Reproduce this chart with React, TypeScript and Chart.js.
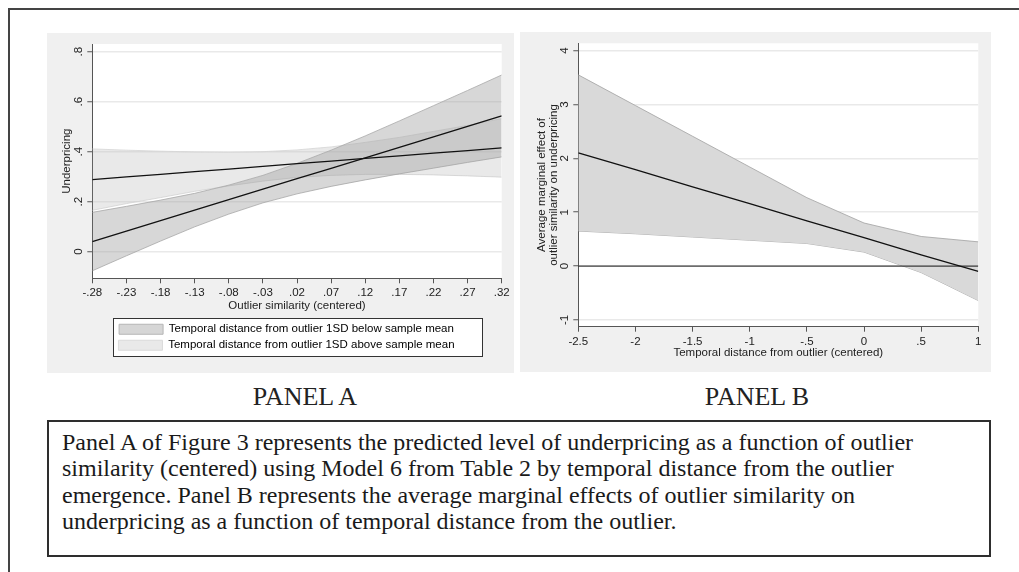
import React, { useEffect, useRef } from 'react';
import { Chart, registerables } from 'chart.js';

Chart.register(...registerables);

// ---------------- Panel A data ----------------
const simX = [-0.28, -0.23, -0.18, -0.13, -0.08, -0.03, 0.02, 0.07, 0.12, 0.17, 0.22, 0.27, 0.32];
const belowEst = [0.040, 0.082, 0.124, 0.166, 0.208, 0.250, 0.292, 0.333, 0.375, 0.417, 0.459, 0.501, 0.543];
const belowHi = [0.157, 0.181, 0.206, 0.233, 0.266, 0.305, 0.353, 0.406, 0.463, 0.523, 0.584, 0.645, 0.707];
const belowLo = [-0.077, -0.017, 0.042, 0.099, 0.150, 0.195, 0.231, 0.261, 0.287, 0.311, 0.334, 0.357, 0.379];
const aboveEst = [0.288, 0.299, 0.309, 0.320, 0.330, 0.341, 0.352, 0.362, 0.373, 0.383, 0.394, 0.404, 0.415];
const aboveHi = [0.411, 0.406, 0.402, 0.399, 0.397, 0.400, 0.407, 0.419, 0.437, 0.457, 0.481, 0.505, 0.532];
const aboveLo = [0.165, 0.192, 0.216, 0.241, 0.263, 0.282, 0.297, 0.305, 0.309, 0.309, 0.307, 0.303, 0.298];
const simTicks = [-0.28, -0.23, -0.18, -0.13, -0.08, -0.03, 0.02, 0.07, 0.12, 0.17, 0.22, 0.27, 0.32];
const underTicks = [0, 0.2, 0.4, 0.6, 0.8];
const legendLabels = [
  'Temporal distance from outlier 1SD below sample mean',
  'Temporal distance from outlier 1SD above sample mean',
];

// ---------------- Panel B data ----------------
const distX = [-2.5, -2, -1.5, -1, -0.5, 0, 0.5, 1];
const ameEst = [2.10, 1.79, 1.47, 1.16, 0.84, 0.53, 0.21, -0.10];
const ameHi = [3.55, 2.98, 2.41, 1.84, 1.27, 0.80, 0.55, 0.45];
const ameLo = [0.65, 0.60, 0.54, 0.48, 0.42, 0.26, -0.12, -0.64];
const zeroRefX = [-2.5, 1];
const zeroRefY = [0, 0];
const distTicks = [-2.5, -2, -1.5, -1, -0.5, 0, 0.5, 1];
const ameTicks = [-1, 0, 1, 2, 3, 4];

const panelTitles = ['PANEL A', 'PANEL B'];
const captionLines = [
  'Panel A of Figure 3 represents the predicted level of underpricing as a function of outlier',
  'similarity (centered) using Model 6 from Table 2 by temporal distance from the outlier',
  'emergence. Panel B represents the average marginal effects of outlier similarity on',
  'underpricing as a function of temporal distance from the outlier.',
];

// ---------------- styles ----------------
const SANS = '"Liberation Sans", Arial, sans-serif';
const SERIF = '"Liberation Serif", "Times New Roman", serif';
const FS = 11.5;
const TEXT = '#222222';
const AXIS = '#555555';
const GRID = '#e9e9e9';

Chart.defaults.font.family = SANS;

function fmt(v: number): string {
  const r = Math.round(v * 100) / 100;
  if (r === 0) return '0';
  return String(r).replace(/^(-?)0\./, '$1.');
}

function pts(xs: number[], ys: number[]) {
  return xs.map((x, i) => ({ x, y: ys[i] }));
}

const plotBg = {
  id: 'plotBg',
  beforeDraw(chart: any) {
    const { ctx, chartArea: a } = chart;
    ctx.save();
    ctx.fillStyle = '#ffffff';
    ctx.fillRect(a.left, a.top, a.right - a.left, a.bottom - a.top);
    ctx.restore();
  },
};

const rotatedYLabels = {
  id: 'rotatedYLabels',
  afterDraw(chart: any) {
    const s = chart.scales.y;
    if (!s) return;
    const ctx = chart.ctx;
    ctx.save();
    ctx.font = `${FS}px ${SANS}`;
    ctx.fillStyle = TEXT;
    ctx.textAlign = 'center';
    ctx.textBaseline = 'middle';
    const x = s.right - 13.2;
    for (const t of s.ticks) {
      const y = s.getPixelForValue(t.value);
      ctx.save();
      ctx.translate(x, y);
      ctx.rotate(-Math.PI / 2);
      ctx.fillText(fmt(t.value), 0, 0);
      ctx.restore();
    }
    ctx.restore();
  },
};

const LEGEND_SHIFT = -10.5;
const legendFrame = {
  id: 'legendFrame',
  afterLayout(chart: any) {
    const lg = chart.legend;
    const a = chart.chartArea;
    if (!lg) return;
    lg.left = a.left + LEGEND_SHIFT;
    lg.right = a.right + LEGEND_SHIFT;
  },
  beforeDraw(chart: any) {
    const lg = chart.legend;
    const a = chart.chartArea;
    if (!lg) return;
    const ctx = chart.ctx;
    const x0 = Math.round(a.left + 20.4) + 0.5;
    const x1 = Math.round(a.right - 20) + 0.5;
    const y0 = Math.round(lg.top - 0.7) + 0.5;
    const y1 = Math.round(lg.top + 36.7) + 0.5;
    ctx.save();
    ctx.fillStyle = '#ffffff';
    ctx.fillRect(x0, y0, x1 - x0, y1 - y0);
    ctx.strokeStyle = '#333333';
    ctx.lineWidth = 1;
    ctx.strokeRect(x0, y0, x1 - x0, y1 - y0);
    ctx.restore();
  },
};

const lineStyle = { pointRadius: 0, borderWidth: 1.3, borderColor: '#111111', fill: false, tension: 0 };
const tickFont = { family: SANS, size: FS };

function configA(): any {
  return {
    type: 'line',
    data: {
      datasets: [
        { label: 'below', data: pts(simX, belowEst), ...lineStyle },
        { label: 'above', data: pts(simX, aboveEst), ...lineStyle },
        {
          label: 'below hi', data: pts(simX, belowHi), pointRadius: 0, borderWidth: 0.8,
          borderColor: '#a8a8a8', backgroundColor: 'rgba(160,160,160,0.42)', fill: '+1', tension: 0,
        },
        { label: 'below lo', data: pts(simX, belowLo), pointRadius: 0, borderWidth: 0.8, borderColor: '#a8a8a8', fill: false, tension: 0 },
        {
          label: 'above hi', data: pts(simX, aboveHi), pointRadius: 0, borderWidth: 0.8,
          borderColor: '#d4d4d4', backgroundColor: 'rgba(195,195,195,0.36)', fill: '+1', tension: 0,
        },
        { label: 'above lo', data: pts(simX, aboveLo), pointRadius: 0, borderWidth: 0.8, borderColor: '#d4d4d4', fill: false, tension: 0 },
      ],
    },
    options: {
      responsive: false,
      animation: false,
      events: [],
      layout: { padding: { left: 0, right: 12.3, top: 11, bottom: 12 } },
      scales: {
        x: {
          type: 'linear', min: -0.28, max: 0.32,
          afterBuildTicks: (s: any) => { s.ticks = simTicks.map((v) => ({ value: v })); },
          afterFit: (s: any) => { s.height = 40.7; },
          ticks: { font: tickFont, color: TEXT, padding: 3, maxRotation: 0, autoSkip: false, callback: (v: any) => fmt(Number(v)) },
          grid: { drawOnChartArea: false, tickLength: 5, tickColor: AXIS, tickWidth: 1 },
          border: { color: AXIS, width: 1 },
          title: { display: true, text: 'Outlier similarity (centered)', font: tickFont, color: TEXT, padding: { top: 0, bottom: 6.1 } },
        },
        y: {
          type: 'linear', min: -0.107, max: 0.831,
          afterBuildTicks: (s: any) => { s.ticks = underTicks.map((v) => ({ value: v })); },
          afterFit: (s: any) => { s.width = 45.3; },
          ticks: { display: false },
          grid: { color: GRID, lineWidth: 1.5, tickColor: AXIS, tickLength: 5, tickWidth: 1 },
          border: { color: AXIS, width: 1 },
          title: { display: true, text: 'Underpricing', font: tickFont, color: TEXT, padding: { top: 13.1, bottom: 0 } },
        },
      },
      plugins: {
        tooltip: { enabled: false },
        legend: {
          display: true, position: 'bottom', align: 'center', fullSize: false,
          onClick: () => {},
          labels: {
            boxWidth: 44, boxHeight: 10, padding: 4.5, color: TEXT, font: tickFont,
            generateLabels: () => legendLabels.map((text, i) => ({
              text,
              fillStyle: i === 0 ? '#d6d6d6' : '#e9e9e9',
              strokeStyle: i === 0 ? '#b5b5b5' : '#dadada',
              lineWidth: 1,
              hidden: false,
              datasetIndex: i === 0 ? 2 : 4,
            })),
          },
        },
      },
    },
    plugins: [plotBg, legendFrame, rotatedYLabels],
  };
}

function configB(): any {
  return {
    type: 'line',
    data: {
      datasets: [
        { label: 'ame', data: pts(distX, ameEst), ...lineStyle },
        { label: 'zero', data: pts(zeroRefX, zeroRefY), pointRadius: 0, borderWidth: 1, borderColor: '#111111', fill: false },
        {
          label: 'hi', data: pts(distX, ameHi), pointRadius: 0, borderWidth: 0.9,
          borderColor: '#a9a9a9', backgroundColor: '#d9d9d9', fill: '+1', tension: 0,
        },
        { label: 'lo', data: pts(distX, ameLo), pointRadius: 0, borderWidth: 0.9, borderColor: '#a9a9a9', fill: false, tension: 0 },
      ],
    },
    options: {
      responsive: false,
      animation: false,
      events: [],
      layout: { padding: { left: 0, right: 12.7, top: 11.3, bottom: 11.3 } },
      scales: {
        x: {
          type: 'linear', min: -2.5, max: 1,
          afterBuildTicks: (s: any) => { s.ticks = distTicks.map((v) => ({ value: v })); },
          afterFit: (s: any) => { s.height = 34; },
          ticks: { font: tickFont, color: TEXT, padding: 3, maxRotation: 0, autoSkip: false, callback: (v: any) => fmt(Number(v)) },
          grid: { drawOnChartArea: false, tickLength: 5, tickColor: AXIS, tickWidth: 1 },
          border: { color: AXIS, width: 1 },
          title: { display: true, text: 'Temporal distance from outlier (centered)', font: tickFont, color: TEXT, padding: { top: 0, bottom: 0.5 } },
        },
        y: {
          type: 'linear', min: -1.125, max: 4.136,
          afterBuildTicks: (s: any) => { s.ticks = ameTicks.map((v) => ({ value: v })); },
          afterFit: (s: any) => { s.width = 58.3; },
          ticks: { display: false },
          grid: { color: GRID, lineWidth: 1.5, tickColor: AXIS, tickLength: 5, tickWidth: 1 },
          border: { color: AXIS, width: 1 },
          title: {
            display: true,
            text: ['Average marginal effect of', 'outlier similarity on underpricing'],
            font: { family: SANS, size: FS, lineHeight: 1.07 }, color: TEXT,
            padding: { top: 15.5, bottom: 0 },
          },
        },
      },
      plugins: { tooltip: { enabled: false }, legend: { display: false } },
    },
    plugins: [plotBg, rotatedYLabels],
  };
}

function ChartCanvas({ width, height, makeConfig }: { width: number; height: number; makeConfig: () => any }) {
  const ref = useRef<HTMLCanvasElement>(null);
  useEffect(() => {
    const chart = new Chart(ref.current as HTMLCanvasElement, makeConfig());
    return () => chart.destroy();
  }, []);
  return <canvas ref={ref} width={width} height={height} style={{ display: 'block', width, height }} />;
}

const captionStyle: React.CSSProperties = {
  position: 'absolute', top: 384, width: 200, textAlign: 'center', font: `26px ${SERIF}`,
  lineHeight: '26px', color: '#222', whiteSpace: 'nowrap',
};

export default function App() {
  return (
    <div style={{ position: 'fixed', left: 0, top: 0, width: 1019, height: 572, background: '#ffffff', overflow: 'hidden' }}>
      <div style={{ position: 'absolute', left: 8, top: 8, width: 1100, height: 700, borderTop: '2px solid #444', borderLeft: '2px solid #444' }} />
      <div style={{ position: 'absolute', left: 47, top: 33, width: 467, height: 340, background: '#f0f0f0' }}>
        <ChartCanvas width={467} height={340} makeConfig={configA} />
      </div>
      <div style={{ position: 'absolute', left: 520, top: 32, width: 471, height: 340, background: '#f0f0f0' }}>
        <ChartCanvas width={471} height={340} makeConfig={configB} />
      </div>
      <div style={{ ...captionStyle, left: 205 }}>{panelTitles[0]}</div>
      <div style={{ ...captionStyle, left: 657 }}>{panelTitles[1]}</div>
      <div style={{ position: 'absolute', left: 47, top: 420, width: 944, height: 137, border: '2px solid #2e2e2e', boxSizing: 'border-box' }} />
      <div style={{ position: 'absolute', left: 62, top: 429, font: `24px ${SERIF}`, lineHeight: '26.3px', color: '#1a1a1a' }}>
        {captionLines.map((l, i) => (
          <div key={i} style={{ whiteSpace: 'nowrap' }}>{l}</div>
        ))}
      </div>
    </div>
  );
}
